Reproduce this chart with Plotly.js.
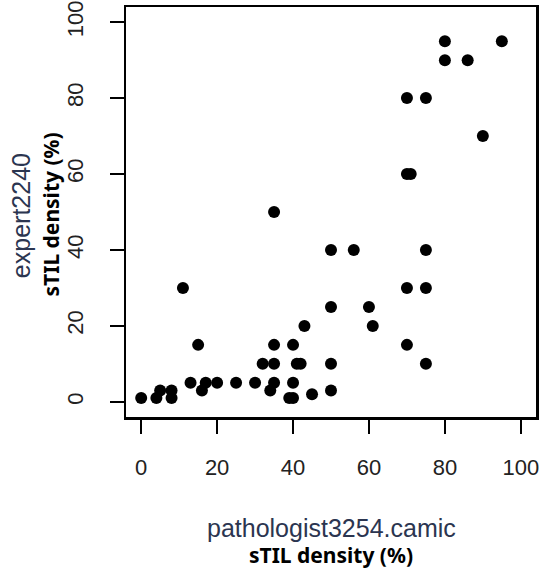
<!DOCTYPE html>
<html>
<head>
<meta charset="utf-8">
<script src="https://cdn.plot.ly/plotly-3.0.1.min.js"></script>
<style>html,body{margin:0;padding:0;background:#fff;}#chart{width:547px;height:572px;}</style>
</head>
<body>
<div id="chart"></div>
<script>
// pathologist3254.camic sTIL density (%)
const pathologist = [0,4,5,8,8,11,13,15,16,17,20,25,30,32,34,35,35,35,35,39,40,40,40,41,42,43,45,50,50,50,50,56,60,61,70,70,70,71,70,75,75,75,75,80,80,86,90,95];
// expert2240 sTIL density (%)
const expert      = [1,1,3,3,1,30,5,15,3,5,5,5,5,10,3,5,10,15,50,1,1,5,15,10,10,20,2,3,10,25,40,40,25,20,15,30,60,60,80,10,30,40,80,90,95,90,70,95];
const tickVals = [0,20,40,60,80,100];
const tickText = ["0","20","40","60","80","100"];

const axisCommon = {
  range: [-4, 104],
  showgrid: false,
  zeroline: false,
  showline: true,
  mirror: true,
  linecolor: "#000",
  linewidth: 2.5,
  ticks: "outside",
  ticklen: 14,
  tickwidth: 1.5,
  tickcolor: "#000",
  tickvals: tickVals,
  ticktext: tickText,
  tickfont: {family: "Liberation Sans, Arial, sans-serif", size: 22, color: "#222"},
  fixedrange: true
};

const trace = {
  x: pathologist,
  y: expert,
  type: "scatter",
  mode: "markers",
  marker: {color: "#000", size: 12},
  hoverinfo: "x+y"
};

const layout = {
  width: 547,
  height: 572,
  margin: {l: 126, r: 11, t: 7, b: 155},
  paper_bgcolor: "#fff",
  plot_bgcolor: "#fff",
  showlegend: false,
  xaxis: Object.assign({}, axisCommon, {ticklabelstandoff: 15}),
  yaxis: Object.assign({}, axisCommon, {tickangle: -90, ticklabelstandoff: 18}),
  annotations: [
    {text: "pathologist3254.camic", xref: "paper", yref: "paper", x: 0.5, y: -0.271, xanchor: "center", yanchor: "middle", showarrow: false,
     font: {family: "Liberation Sans, Arial, sans-serif", size: 25, color: "#2b3550"}},
    {text: "<b>sTIL density (%)</b>", xref: "paper", yref: "paper", x: 0.5, y: -0.337, xanchor: "center", yanchor: "middle", showarrow: false,
     font: {family: "Noto Sans, sans-serif", size: 21, color: "#000"}},
    {text: "expert2240", xref: "paper", yref: "paper", x: -0.256, y: 0.49, xanchor: "center", yanchor: "middle", showarrow: false, textangle: -90,
     font: {family: "Liberation Sans, Arial, sans-serif", size: 25, color: "#2b3550"}},
    {text: "<b>sTIL density (%)</b>", xref: "paper", yref: "paper", x: -0.183, y: 0.494, xanchor: "center", yanchor: "middle", showarrow: false, textangle: -90,
     font: {family: "Noto Sans, sans-serif", size: 21, color: "#000"}}
  ]
};

Plotly.newPlot("chart", [trace], layout, {displayModeBar: false, staticPlot: true});
</script>
</body>
</html>
